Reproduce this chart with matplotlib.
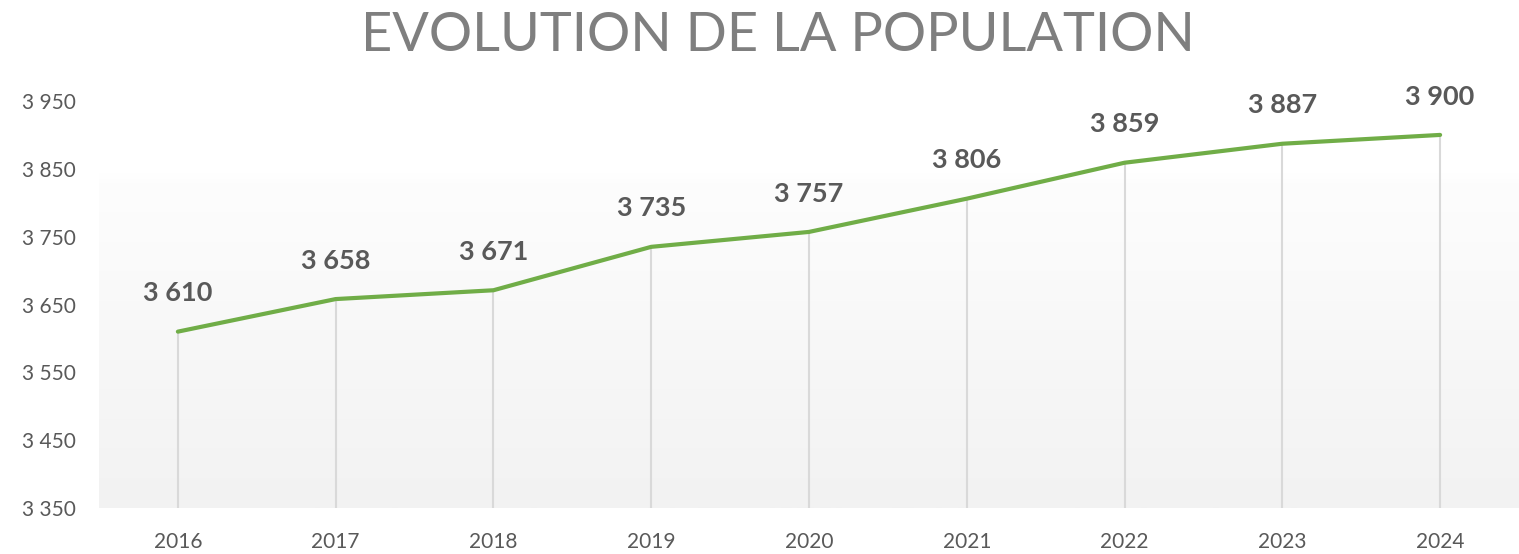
import matplotlib.pyplot as plt
import numpy as np
from matplotlib.colors import LinearSegmentedColormap

# Data
years = ['2016', '2017', '2018', '2019', '2020', '2021', '2022', '2023', '2024']
population = [3610, 3658, 3671, 3735, 3757, 3806, 3859, 3887, 3900]
y_ticks = [3350, 3450, 3550, 3650, 3750, 3850, 3950]

plt.rcParams['font.family'] = ['Lato', 'DejaVu Sans']

fig = plt.figure(figsize=(15.19, 5.54), dpi=100)
ax = fig.add_axes([99 / 1519, 1 - 508 / 554, 1 - 99 / 1519, 407 / 554])

x = np.arange(len(years))

# background gradient (white at top -> light gray at bottom)
cmap = LinearSegmentedColormap.from_list(
    'bg', [(0, '#ffffff'), (0.18, '#ffffff'), (0.2, '#fdfdfd'), (1, '#f2f2f2')], N=256)
grad = np.linspace(0, 1, 256).reshape(-1, 1)
ax.imshow(grad, cmap=cmap, aspect='auto', extent=[0, 1, 0, 1],
          transform=ax.transAxes, zorder=0, origin='upper')

# drop lines
ax.vlines(x, y_ticks[0], population, colors='#d9d9d9', linewidth=1.5, zorder=1)

ax.plot(x, population, color='#70ad47', linewidth=3, solid_capstyle='round', zorder=3)

for xi, v in zip(x, population):
    ax.annotate(f'{v:,}'.replace(',', ' '), (xi, v), xytext=(0, 19),
                textcoords='offset points', ha='center', va='bottom',
                fontsize=19.5, fontweight='bold', color='#595959')

ax.set_xlim(-0.5, len(years) - 0.5)
ax.set_ylim(y_ticks[0], y_ticks[-1])
ax.set_xticks(x)
ax.set_xticklabels(years)
ax.set_yticks(y_ticks)
ax.set_yticklabels([f'{t:,}'.replace(',', ' ') for t in y_ticks])
ax.tick_params(axis='both', length=0, labelsize=15, labelcolor='#595959')
ax.tick_params(axis='y', pad=17)
ax.tick_params(axis='x', pad=17)
for s in ax.spines.values():
    s.set_visible(False)

fig.text(778 / 1519, 1 - 51 / 554, 'EVOLUTION DE LA POPULATION', ha='center', va='baseline',
         fontsize=39, color='#7f7f7f')

fig.savefig('out.png', dpi=100)
